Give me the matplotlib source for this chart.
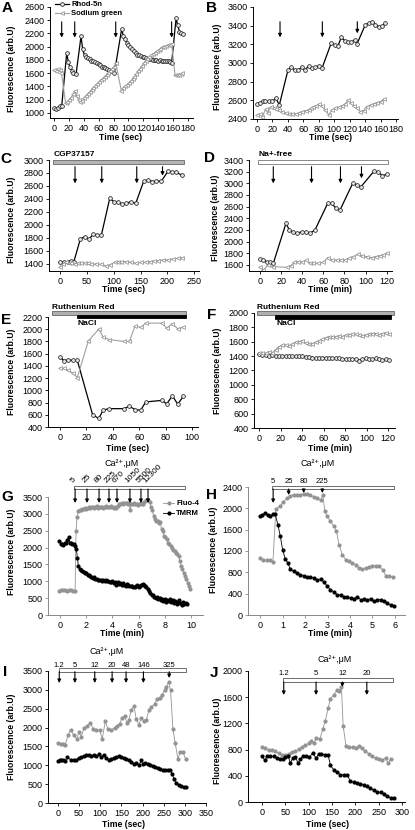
import matplotlib
matplotlib.use('Agg')
import matplotlib.pyplot as plt
from matplotlib.patches import Rectangle

plt.rcParams['font.family'] = ['Liberation Sans', 'DejaVu Sans']
plt.rcParams['font.size'] = 6.5
plt.rcParams['axes.linewidth'] = 0.7
plt.rcParams['xtick.major.size'] = 2.5
plt.rcParams['ytick.major.size'] = 2.5
plt.rcParams['xtick.major.width'] = 0.6
plt.rcParams['ytick.major.width'] = 0.6
plt.rcParams['xtick.major.pad'] = 1.5
plt.rcParams['ytick.major.pad'] = 1.5

# ---------------- data ----------------
# A
rh_a_x = [0, 2.5, 5, 7.5, 10.3, 17, 19.3, 21.5, 23.7, 26, 29.6, 36.3, 38.5, 41, 43, 45.5, 48, 50, 52.5, 55, 57.5,
          60, 62, 64.5, 67, 69, 71.5, 74, 76, 78.5, 81, 91, 93, 95.5, 98, 100, 102.5, 105, 107, 109.5, 112,
          114, 116.5, 119, 121, 123.5, 126, 128, 130.5, 133, 135, 137.5, 140, 142, 144.5, 147, 149, 151.5, 154, 156, 158,
          164, 166, 168.5, 170.5, 173]
rh_a_y = [1070, 1060, 1080, 1100, 1100, 1900, 1770, 1690, 1640, 1600, 1585, 2160, 1960, 1870, 1840, 1830, 1810, 1790, 1780, 1770, 1750,
          1740, 1720, 1700, 1700, 1680, 1660, 1650, 1640, 1630, 1600, 2275, 2160, 2110, 2060, 2020, 1990, 1960, 1930, 1900, 1880,
          1870, 1860, 1850, 1840, 1830, 1820, 1810, 1810, 1800, 1800, 1800, 1790, 1800, 1790, 1790, 1780, 1790, 1780, 1770, 1760,
          2430, 2330, 2230, 2200, 2190]
sg_a_x = [0, 2.5, 5, 7.5, 10, 15.5, 18, 20.5, 23, 25.5, 28, 30.5, 33, 35.5, 38, 40.5, 43, 45.5, 48, 50.5, 53, 55.5, 58, 60.5,
          63, 65.5, 68, 70.5, 73, 75.5, 78, 80.5, 83, 90.5, 93, 95.5, 98, 100.5, 103, 105.5, 108, 110.5, 113,
          115.5, 118, 120.5, 123, 125.5, 128, 130.5, 133, 135.5, 138, 140.5, 143, 145.5, 148, 150.5, 153, 155.5, 158,
          162.5, 165, 167.5, 170, 172.5]
sg_a_y = [1650, 1640, 1660, 1650, 1610, 1150, 1170, 1200, 1230, 1280, 1330, 1260, 1200, 1160, 1180, 1220, 1260, 1290, 1320, 1350, 1380, 1410, 1440, 1470,
          1500, 1520, 1550, 1580, 1600, 1630, 1660, 1700, 1750, 1330, 1370, 1400, 1420, 1450, 1480, 1510, 1550, 1590, 1630,
          1670, 1710, 1750, 1780, 1810, 1840, 1870, 1890, 1910, 1930, 1950, 1970, 1990, 2000, 2010, 2020, 2030, 2040,
          1580, 1570, 1580, 1590, 1600]
arrows_a = [10.3, 27.8, 82.9, 158]

# B
rh_b_x = [0, 3.5, 7.3, 10.8, 15.1, 19.4, 24.6, 28.9, 40.1, 44.5, 48.8, 53.1, 58.3, 61.7, 66.9, 71.2, 75.5, 79.8, 84.2,
          96.2, 100.6, 104.9, 109.2, 113.5, 117.9, 122.2, 126.5, 129.5, 140.3, 144.6, 148.9, 153.3, 157.6, 161.9, 166.2]
rh_b_y = [2560, 2575, 2590, 2590, 2590, 2590, 2620, 2550, 2925, 2960, 2920, 2920, 2960, 2920, 2970, 2945, 2955, 2970, 2945,
          3215, 3195, 3185, 3275, 3240, 3220, 3220, 3250, 3205, 3410, 3425, 3440, 3410, 3390, 3395, 3430]
sg_b_x = [0, 3.5, 7, 11, 14, 18, 22, 25, 29, 32, 37, 41, 45, 50, 54, 58, 63, 67, 70, 73, 77, 80, 84, 88, 93, 97, 101, 106,
          110, 114, 118, 122, 125, 130, 134, 138, 142, 147, 151, 155, 160, 164]
sg_b_y = [2443, 2454, 2425, 2504, 2468, 2533, 2515, 2504, 2497, 2479, 2461, 2454, 2454, 2454, 2461, 2479, 2490, 2497, 2515,
          2525, 2540, 2558, 2540, 2497, 2443, 2497, 2515, 2525, 2540, 2561, 2604, 2568, 2540, 2515, 2479, 2490, 2533, 2551,
          2561, 2576, 2586, 2611]
arrows_b = [29.8, 84.6, 129.9]
tips_b = [3275, 3275, 3318]

# C
rh_c_x = [0, 7.5, 14.9, 21.1, 25.5, 37.9, 45.9, 54, 61.6, 69.7, 77.1, 92.7, 100.1, 108.2, 116.2, 123.7, 131.8, 141.1,
          156.1, 164.2, 172.3, 179.7, 189, 201.5, 209.6, 217, 226.4]
rh_c_y = [1436, 1426, 1436, 1450, 1426, 1785, 1820, 1780, 1856, 1846, 1846, 2410, 2359, 2349, 2318, 2333, 2359, 2333,
          2677, 2692, 2667, 2677, 2677, 2830, 2810, 2810, 2769]
sg_c_x = [0, 5.6, 10.6, 16.2, 21.1, 27.4, 33.6, 39.8, 46, 52.2, 58.5, 67.8, 77.1, 85.2, 92.7, 102, 108.2, 114.4, 123.7,
          133.1, 142.4, 151.7, 159.8, 167.3, 174.7, 182.8, 192.2, 201.5, 210.8, 220.1, 226.4]
sg_c_y = [1359, 1400, 1436, 1410, 1410, 1400, 1410, 1410, 1410, 1410, 1395, 1400, 1395, 1374, 1385, 1426, 1426, 1436, 1436,
          1426, 1410, 1426, 1426, 1436, 1446, 1451, 1462, 1462, 1477, 1487, 1497]
arrows_c = [28, 77.8, 143, 191]
tips_c = [2641, 2641, 2641, 2759]

# D
rh_d_x = [0, 3.2, 6.3, 9.5, 12.6, 24.6, 27.8, 31.6, 35.4, 39.5, 43.3, 47.4, 52.1, 64.1, 67.9, 72, 75.8, 87.8, 91.6, 95.7,
          108.3, 112.1, 115.9, 120]
rh_d_y = [1703, 1686, 1657, 1646, 1629, 2314, 2200, 2160, 2143, 2171, 2160, 2143, 2200, 2657, 2657, 2571, 2543, 3000, 2971, 2943,
          3217, 3189, 3131, 3154]
sg_d_x = [0, 3.2, 7.9, 12.6, 25.3, 29.4, 32.5, 36.3, 40.1, 43.6, 47.4, 50.5, 55.3, 60, 64.1, 67.9, 72.6, 76.8, 80.5, 84.3,
          88.4, 92.5, 96.3, 101, 105.8, 109.5, 113.7, 116.8, 120]
sg_d_y = [1560, 1514, 1600, 1571, 1560, 1589, 1646, 1657, 1646, 1686, 1629, 1629, 1629, 1646, 1726, 1686, 1686, 1686, 1686, 1714,
          1743, 1783, 1760, 1743, 1726, 1743, 1760, 1771, 1800]
arrows_d = [12.6, 48.8, 76.2, 96.1]
tips_d = [3000, 3000, 3000, 3086]

# E
rh_e_x = [0, 3, 6.3, 9.6, 13.1, 24.7, 29.3, 32.8, 37.4, 48.5, 52.5, 56.8, 61.1, 64.9, 77, 80.8, 85.1, 89.1, 93.4]
rh_e_y = [1540, 1485, 1500, 1490, 1490, 600, 540, 680, 700, 700, 740, 685, 675, 810, 835, 780, 910, 775, 900]
sg_e_x = [0, 3, 6.3, 9.6, 13.1, 21.5, 29.3, 32.8, 37.4, 48.5, 52.5, 56.8, 61.1, 64.9, 77, 80.8, 85.1, 89.1, 93.4]
sg_e_y = [1365, 1360, 1330, 1280, 1210, 1810, 2000, 1870, 1830, 1800, 1800, 2050, 2030, 2100, 2100, 2020, 2090, 2010, 2030]

# F
f_x = [0, 3.1, 6.2, 9.3, 12.4, 15.5, 18.6, 21.7, 24.8, 27.9, 31, 34.1, 37.2, 40.3, 43.4, 46.5, 49.6, 52.7, 55.8, 58.9,
       62, 65.1, 68.2, 71.3, 74.4, 77.5, 80.6, 83.7, 86.8, 89.9, 93, 96.1, 99.2, 102.3, 105.4, 108.5, 111.6, 114.7, 117.8, 120.9]
rh_f_y = [1429, 1417, 1417, 1408, 1417, 1408, 1396, 1408, 1396, 1408, 1400, 1396, 1408, 1400, 1388, 1388, 1380, 1367, 1376, 1376,
          1380, 1367, 1376, 1367, 1376, 1359, 1359, 1355, 1359, 1355, 1339, 1355, 1367, 1359, 1355, 1367, 1355, 1347, 1355, 1347]
sg_f_y = [1441, 1449, 1437, 1461, 1445, 1490, 1531, 1551, 1551, 1543, 1571, 1592, 1600, 1612, 1580, 1565, 1571, 1592, 1612, 1633,
          1653, 1673, 1665, 1673, 1682, 1673, 1694, 1694, 1702, 1706, 1694, 1682, 1694, 1706, 1714, 1714, 1694, 1714, 1722, 1710]

# G
g_fluo_x = [-0.05, 0.1, 0.25, 0.4, 0.55, 0.7, 0.85, 1.0, 1.15,
            1.22, 1.3, 1.4, 1.5, 1.6, 1.7, 1.8, 1.9, 2.0, 2.1,
            2.2, 2.3, 2.4, 2.5, 2.6, 2.7, 2.8, 2.9, 3.0, 3.1,
            3.2, 3.3, 3.4, 3.5, 3.6, 3.7, 3.8, 3.9, 4.0, 4.1,
            4.2, 4.3, 4.4, 4.5, 4.6, 4.7, 4.8, 4.9, 5.0, 5.1,
            5.2, 5.3, 5.35, 5.45, 5.55, 5.65, 5.75, 5.85, 5.95, 6.05,
            6.15, 6.25, 6.35, 6.45, 6.55, 6.65, 6.75, 6.85, 6.95, 7.05,
            7.15, 7.25, 7.35, 7.45, 7.55, 7.65, 7.75, 7.85, 7.95, 8.05,
            8.15, 8.25, 8.35, 8.45, 8.55, 8.65, 8.75, 8.85, 8.95, 9.05,
            9.15, 9.25, 9.35, 9.45, 9.55, 9.65, 9.75, 9.85, 9.95]
g_fluo_y = [720, 740, 730, 750, 720, 740, 730, 700, 720,
            2480, 2900, 3080, 3120, 3100, 3150, 3140, 3180, 3150, 3170,
            3200, 3180, 3200, 3190, 3180, 3200, 3220, 3180, 3200, 3190,
            3210, 3180, 3200, 3220, 3190, 3210, 3200, 3220, 3200, 3180,
            3200, 3160, 3230, 3290, 3300, 3320, 3300, 3330, 3310, 3330,
            3280, 3320, 3100, 3300, 3280, 3310, 3290, 3300, 3260, 3280,
            3320, 3300, 3280, 3340, 3400, 3420, 3400, 3350, 3200, 3100,
            2950, 2850, 2780, 2800, 2720, 2750, 2560, 2480, 2350, 2300,
            2250, 2150, 2100, 2050, 2000, 1920, 1900, 1850, 1800, 1760,
            1600, 1450, 1350, 1250, 1150, 1080, 950, 850, 760]
g_tmrm_x = [-0.05, 0.05, 0.15, 0.25, 0.35, 0.45, 0.55, 0.65, 0.75, 0.85,
            0.95, 1.05, 1.15, 1.25, 1.32, 1.4, 1.5, 1.6, 1.7, 1.8,
            1.9, 2.0, 2.1, 2.2, 2.3, 2.4, 2.5, 2.6, 2.7, 2.8,
            2.9, 3.0, 3.1, 3.2, 3.3, 3.4, 3.5, 3.6, 3.7, 3.8,
            3.9, 4.0, 4.1, 4.2, 4.3, 4.4, 4.5, 4.6, 4.7, 4.8,
            4.9, 5.0, 5.1, 5.2, 5.3, 5.4, 5.5, 5.6, 5.7, 5.8,
            5.9, 6.0, 6.1, 6.2, 6.3, 6.4, 6.5, 6.6, 6.7, 6.8,
            6.9, 7.0, 7.1, 7.2, 7.3, 7.4, 7.5, 7.6, 7.7, 7.8,
            7.9, 8.0, 8.1, 8.2, 8.3, 8.4, 8.5, 8.6, 8.7, 8.8,
            8.9, 9.0, 9.1, 9.2, 9.3, 9.4, 9.5, 9.6, 9.7]
g_tmrm_y = [2200, 2100, 2100, 2080, 2130, 2150, 2230, 2320, 2150, 2130,
            2100, 2100, 2050, 1950, 1700, 1450, 1360, 1330, 1300, 1290,
            1250, 1260, 1200, 1180, 1150, 1120, 1100, 1120, 1080, 1060,
            1050, 1030, 1040, 1020, 1030, 1010, 1030, 1000, 1010, 990,
            980, 1000, 960, 990, 900, 980, 920, 960, 880, 950,
            900, 870, 920, 880, 860, 850, 870, 840, 820, 860,
            880, 830, 860, 900, 930, 900, 870, 820, 760, 700,
            640, 600, 580, 540, 500, 520, 470, 500, 440, 480,
            420, 460, 400, 450, 430, 470, 400, 440, 360, 420,
            330, 380, 450, 350, 300, 400, 330, 350, 320]
g_arrows = [1.15, 2.06, 2.98, 3.74, 4.35, 5.34, 6.18, 6.72]
g_conc = ['5', '25', '80', '225', '670', '1050', '5500', '12300']

# H
h_tmrm_x = [0, 0.10, 0.22, 0.34, 0.45, 0.57, 0.67, 0.79, 0.90, 1.0, 1.12, 1.24, 1.34, 1.49, 1.64, 1.79, 1.94, 2.09, 2.24, 2.39,
            2.54, 2.69, 2.84, 2.99, 3.13, 3.28, 3.43, 3.58, 3.73, 3.88, 4.03, 4.18, 4.33, 4.48, 4.63, 4.78, 4.93, 5.07, 5.22, 5.37,
            5.52, 5.67, 5.82, 5.97]
h_tmrm_y = [1850, 1881, 1912, 1881, 1850, 1894, 1894, 1694, 1475, 1225, 1050, 975, 862, 819, 787, 756, 737, 706, 712, 694,
            662, 675, 619, 537, 475, 431, 381, 369, 337, 331, 319, 306, 337, 287, 300, 287, 306, 256, 287, 287,
            256, 225, 181, 162]
h_fluo_x = [0, 0.15, 0.30, 0.45, 0.57, 0.70, 0.90, 1.04, 1.19, 1.34, 1.49, 1.64, 1.79, 1.94, 2.09, 2.24, 2.39, 2.54, 2.69, 2.79,
            2.88, 2.99, 3.13, 3.28, 3.40, 3.51, 3.66, 3.81, 3.96, 4.10, 4.25, 4.40, 4.55, 4.70, 4.85, 5.0, 5.15, 5.30, 5.45, 5.60,
            5.75, 5.90]
h_fluo_y = [1069, 1037, 1025, 1025, 994, 1987, 2050, 2119, 2194, 2225, 2256, 2256, 2244, 2275, 2275, 2256, 2212, 2194, 2150, 2256,
            1944, 1850, 1756, 1662, 1569, 1319, 1131, 1037, 1006, 975, 944, 881, 862, 881, 900, 912, 925, 912, 850, 737,
            737, 712]
h_arrows = [0.58, 1.27, 1.94, 2.77]
h_tips = [2100, 2250, 2287, 2287]
h_conc = ['5', '25', '80', '225']

# I
i_fluo_x = [0, 6.3, 11.8, 17.3, 23.6, 29.9, 37, 44.9, 49.6, 55.1, 61.4, 68.5, 76.4, 82.7, 90.6, 98.4, 104.7, 111.8, 118.1, 126,
            133.9, 139.4, 145.7, 152, 157.5, 163, 167.7, 173.2, 179.5, 185, 191.3, 196.9, 203.1, 208.7, 215, 220.5, 228.3, 233.9,
            240.2, 246.5, 252, 255.9, 261.4, 266.1, 271.7, 277.2, 283.5, 289, 295.3, 301.6]
i_fluo_y = [1591, 1573, 1555, 1546, 1795, 1946, 1795, 1706, 1884, 1751, 1990, 2035, 2124, 1973, 1946, 1928, 1706, 2168, 1955, 1946,
            1990, 2035, 2106, 2266, 2301, 2124, 2212, 2461, 2568, 2239, 2061, 2266, 2168, 2195, 2461, 2550, 2621, 2745,
            2772, 2861, 2994, 3065, 3216, 2994, 1973, 1591, 1173, 1351, 1351, 1173]
i_tmrm_x = [0, 3.9, 7.9, 11.8, 16.5, 22, 29.9, 37.8, 43.3, 48.8, 55.1, 60.6, 66.9, 73.2, 78.7, 85, 90.6, 96.9, 102.4, 107.9,
            114.2, 120.5, 126, 132.3, 137.8, 143.3, 149.6, 155.9, 161.4, 167.7, 173.2, 178.7, 185, 191.3, 196.9, 200.8, 206.3,
            212.6, 218.1, 224.4, 229.9, 236.2, 241.7, 248, 253.5, 259.8, 265.4, 270.1, 274, 279.5, 285.8, 291.3, 296.9, 303.1]
i_tmrm_y = [1111, 1147, 1129, 1147, 1111, 1218, 1147, 1129, 1129, 1200, 1218, 1236, 1262, 1262, 1244, 1280, 1236, 1289, 1218, 1262,
            1191, 1129, 1173, 1200, 1218, 1244, 1218, 1191, 1156, 1129, 1085, 1022, 1058, 996, 1129, 1022, 1067,
            1022, 996, 969, 951, 925, 907, 880, 863, 863, 880, 774, 640, 525, 490, 463, 436, 436]
i_arrows = [3, 40, 87, 128, 161, 202, 263]
i_tips = [3182, 3182, 3182, 3182, 3182, 3182, 3314]
i_conc = ['1.2', '5', '12', '20', '48', '146', '325']

# J
j_fluo_x = [0, 7.1, 14.3, 21.4, 28.6, 35.7, 42.9, 50, 57.1, 64.3, 71.4, 78.6, 85.7, 92.9, 100, 105.7, 110.7, 116.4, 123.6, 130,
            135.7, 141.4, 146.4, 153.6, 160.7, 165.7, 170, 173.6, 180, 187.1, 194.3, 201.4, 207.1, 214.3, 221.4, 228.6, 235.7,
            242.9, 250, 257.1, 264.3, 270, 275]
j_fluo_y = [833, 822, 797, 787, 772, 746, 721, 721, 736, 756, 772, 807, 833, 863, 898, 934, 898, 975, 959, 1112,
            1244, 1431, 1574, 1635, 1711, 1701, 1751, 1162, 848, 838, 838, 822, 858, 822, 772, 736, 695,
            670, 655, 645, 670, 594, 655]
j_tmrm_x = [0, 5.7, 10.7, 17.9, 25, 32.1, 39.3, 44.3, 50, 55.7, 60.7, 65.7, 71.4, 77.1, 82.1, 87.1, 94.3, 101.4, 108.6, 115.7,
            121.4, 127.1, 134.3, 141.4, 146.4, 153.6, 160.7, 167.9, 175, 182.1, 189.3, 196.4, 203.6, 210.7, 217.9, 225, 232.1,
            239.3, 246.4, 253.6, 260.7, 267.9, 275, 282.1]
j_tmrm_y = [706, 635, 695, 695, 695, 670, 655, 655, 685, 706, 594, 670, 685, 594, 655, 695, 695, 685, 746, 670,
            736, 736, 721, 721, 558, 492, 452, 416, 416, 416, 315, 300, 289, 279, 264, 239, 213, 178, 147, 147,
            122, 86, 61, 61]
j_arrows = [46.5, 115.7, 172, 224.3]
j_tips = [1634, 1634, 1756, 1634]
j_conc = ['1.2', '5', '12', '20']

W, H = 415, 830
fig = plt.figure(figsize=(W / 100, H / 100), dpi=100)


def ftext(x, y, s, **kw):
    fig.text(x / W, 1 - y / H, s, **kw)


def make_ax(box, xlim, ylim, xticks, yticks, spine='black'):
    l, t, r, b = box
    ax = fig.add_axes([l / W, 1 - b / H, (r - l) / W, (b - t) / H])
    ax.set_xlim(*xlim)
    ax.set_ylim(*ylim)
    ax.set_xticks(xticks)
    ax.set_yticks(yticks)
    ax.spines[['top', 'right']].set_visible(False)
    for s in ['left', 'bottom']:
        ax.spines[s].set_color(spine)
    ax.tick_params(colors=spine, labelcolor='black', labelsize=6.5)
    ax.patch.set_visible(False)
    return ax


def rhod(ax, x, y, **kw):
    return ax.plot(x, y, color='black', lw=0.9, marker='o', ms=2.7, mfc='#e6e6e6', mec='#222222', mew=0.55, **kw)[0]


def sodium(ax, x, y, **kw):
    return ax.plot(x, y, color='#a0a0a0', lw=0.8, marker='<', ms=2.8, mfc='white', mec='#909090', mew=0.55, **kw)[0]


def arrow(ax, x, top, tip):
    ax.annotate('', xy=(x, tip), xytext=(x, top), annotation_clip=False,
                arrowprops=dict(arrowstyle='-|>', lw=0.8, color='black', mutation_scale=5,
                                shrinkA=0, shrinkB=0))


ylab = 'Fluorescence (arb.U)'
lab_kw = dict(weight='bold', fontsize=6.2, ha='center', va='center')
let_kw = dict(weight='bold', fontsize=11, ha='center', va='center')

# ---------- A ----------
ax = make_ax((50, 7, 193, 118), (-5.4, 186.7), (924, 2600), range(0, 181, 20), range(1000, 2601, 200))
l1 = rhod(ax, rh_a_x, rh_a_y)
l2 = sodium(ax, sg_a_x, sg_a_y)
for xa in arrows_a:
    arrow(ax, xa, 2376, 2138)
ax.legend([l1, l2], ['Rhod-5n', 'Sodium green'], loc='upper left', bbox_to_anchor=(55 / W, 1 - 1 / H),
          bbox_transform=fig.transFigure, frameon=False, prop={'weight': 'bold', 'size': 5.5},
          handlelength=1.8, handletextpad=0.3, labelspacing=0.2, borderpad=0, borderaxespad=0)
ftext(120, 137, 'Time (sec)', **lab_kw)
ftext(12, 69, ylab, rotation=90, **lab_kw)
ftext(7, 8, 'A', **let_kw)

# ---------- B ----------
ax = make_ax((253, 7, 398, 119), (-5.2, 182.6), (2400, 3600), range(0, 181, 20), range(2400, 3601, 200))
rhod(ax, rh_b_x, rh_b_y)
sodium(ax, sg_b_x, sg_b_y)
for xa, tp in zip(arrows_b, tips_b):
    arrow(ax, xa, 3442, tp)
ftext(330, 137, 'Time (sec)', **lab_kw)
ftext(217, 67, ylab, rotation=90, **lab_kw)
ftext(211, 8, 'B', **let_kw)

# ---------- C ----------
ax = make_ax((49, 160, 199, 271), (-20.5, 259), (1292, 3000), range(0, 251, 50), range(1400, 3001, 200))
rhod(ax, rh_c_x, rh_c_y)
sodium(ax, sg_c_x, sg_c_y)
for xa, tp in zip(arrows_c, tips_c):
    arrow(ax, xa, 2897, tp)
ax.add_patch(Rectangle((-12.5, 2934), 243.5, 66, facecolor='#b5b5b5', edgecolor='#666666', lw=0.6, clip_on=False))
ax.text(-12.5, 3077, 'CGP37157', weight='bold', fontsize=6, ha='left', va='center')
ftext(123, 290, 'Time (sec)', **lab_kw)
ftext(12, 220, ylab, rotation=90, **lab_kw)
ftext(6, 159, 'C', **let_kw)

# ---------- D ----------
ax = make_ax((249, 160, 392, 271), (-10.4, 125), (1497, 3400), range(0, 121, 20), range(1600, 3401, 200))
rhod(ax, rh_d_x, rh_d_y)
sodium(ax, sg_d_x, sg_d_y)
for xa, tp in zip(arrows_d, tips_d):
    arrow(ax, xa, 3286, tp)
ax.add_patch(Rectangle((-1.6, 3326), 123, 74, facecolor='white', edgecolor='#777777', lw=0.6, clip_on=False))
ax.text(-1.5, 3486, 'Na+-free', weight='bold', fontsize=6, ha='left', va='center')
ftext(330, 290, 'Time (min)', **lab_kw)
ftext(215, 218, ylab, rotation=90, **lab_kw)
ftext(209, 158, 'D', **let_kw)

# ---------- E ----------
ax = make_ax((48, 317, 198, 427), (-9.1, 104.5), (400, 2200), range(0, 101, 20), range(400, 2201, 200))
rhod(ax, rh_e_x, rh_e_y)
sodium(ax, sg_e_x, sg_e_y)
ax.add_patch(Rectangle((-6.3, 2238), 101.5, 60, facecolor='#b0b0b0', edgecolor='#666666', lw=0.6, clip_on=False))
ax.add_patch(Rectangle((12.7, 2184), 82.5, 54, facecolor='black', edgecolor='black', lw=0.6, clip_on=False))
ax.text(-6, 2352, 'Ruthenium Red', weight='bold', fontsize=6, ha='left', va='center')
ax.text(13, 2097, 'NaCl', weight='bold', fontsize=6, ha='left', va='center')
ftext(127, 448, 'Time (sec)', **lab_kw)
ftext(12, 372, ylab, rotation=90, **lab_kw)
ftext(6, 320, 'E', **let_kw)

# ---------- F ----------
ax = make_ax((254, 313, 395, 428), (-4.65, 126.5), (400, 2000), range(0, 121, 20), range(400, 2001, 200))
rhod(ax, f_x, rh_f_y)
sodium(ax, f_x, sg_f_y)
ax.add_patch(Rectangle((-1.6, 1972), 126.9, 56, facecolor='#b0b0b0', edgecolor='#666666', lw=0.6, clip_on=False))
ax.add_patch(Rectangle((14.9, 1923), 107.9, 56, facecolor='black', edgecolor='black', lw=0.6, clip_on=False))
ax.text(-1.5, 2074, 'Ruthenium Red', weight='bold', fontsize=6, ha='left', va='center')
ax.text(16.5, 1857, 'NaCl', weight='bold', fontsize=6, ha='left', va='center')
ftext(330, 448, 'Time (min)', **lab_kw)
ftext(217, 371, ylab, rotation=90, **lab_kw)
ftext(212, 315, 'F', **let_kw)

gray = '#939393'
dot = dict(marker='o', ms=2.0, lw=0.6)

# ---------- G ----------
ax = make_ax((48, 497, 203, 615), (-0.92, 10.92), (0, 3500), range(0, 11, 2), range(0, 3501, 500), spine='#888888')
g1, = ax.plot(g_fluo_x, g_fluo_y, color=gray, mfc=gray, mec=gray, **dot)
g2, = ax.plot(g_tmrm_x, g_tmrm_y, color='black', mfc='black', mec='black', **dot)
ax.add_patch(Rectangle((1.07, 3737), 8.47, 89, facecolor='white', edgecolor='#555555', lw=0.6, clip_on=False))
for xa, c in zip(g_arrows, g_conc):
    arrow(ax, xa, 3737, 3322)
    ax.text(xa - 0.1, 3870, c, rotation=45, rotation_mode='anchor', ha='left', va='bottom', fontsize=6)
ax.text(4.73, 4479, 'Ca²⁺,μM', fontsize=6.5, ha='center', va='center')
ax.legend([g1, g2], ['Fluo-4', 'TMRM'], loc='upper left', bbox_to_anchor=(163 / W, 1 - 500 / H),
          bbox_transform=fig.transFigure, frameon=False, prop={'weight': 'bold', 'size': 5.5},
          handlelength=1.45, handletextpad=0.3, labelspacing=0.35, borderpad=0, borderaxespad=0)
ftext(122, 633, 'Time (min)', **lab_kw)
ftext(12, 552, ylab, rotation=90, **lab_kw)
ftext(7, 497, 'G', **let_kw)

# ---------- H ----------
ax = make_ax((248, 487, 405, 615), (-0.54, 6.45), (0, 2400), range(0, 7), range(0, 2401, 400), spine='#888888')
ax.plot(h_fluo_x, h_fluo_y, color=gray, mfc=gray, mec=gray, **dot)
ax.plot(h_tmrm_x, h_tmrm_y, color='black', mfc='black', mec='black', **dot)
ax.add_patch(Rectangle((0.54, 2363), 5.42, 62, facecolor='white', edgecolor='#555555', lw=0.6, clip_on=False))
for xa, tp, c in zip(h_arrows, h_tips, h_conc):
    arrow(ax, xa, 2363, tp)
    ax.text(xa, 2512, c, fontsize=5.5, ha='center', va='center')
ax.text(2.55, 2850, 'Ca²⁺,μM', fontsize=6.5, ha='center', va='center')
ftext(330, 633, 'Time (min)', **lab_kw)
ftext(213, 550, ylab, rotation=90, **lab_kw)
ftext(211, 495, 'H', **let_kw)

# ---------- I ----------
ax = make_ax((48, 671, 206, 803), (-23.6, 350), (0, 3500), range(0, 351, 50), range(0, 3501, 500))
ax.plot(i_fluo_x, i_fluo_y, color=gray, mfc=gray, mec=gray, **dot)
ax.plot(i_tmrm_x, i_tmrm_y, color='black', mfc='black', mec='black', **dot)
ax.add_patch(Rectangle((2.4, 3481), 299.6, 91, facecolor='white', edgecolor='#555555', lw=0.6, clip_on=False))
for xa, tp, c in zip(i_arrows, i_tips, i_conc):
    arrow(ax, xa, 3481, tp)
    ax.text(xa, 3659, c, fontsize=5.5, ha='center', va='center')
ax.text(116, 4004, 'Ca²⁺,μM', fontsize=6.5, ha='center', va='center')
ftext(123, 824, 'Time (sec)', **lab_kw)
ftext(12, 737, ylab, rotation=90, **lab_kw)
ftext(5, 672, 'I', **let_kw)

# ---------- J ----------
ax = make_ax((248, 671, 405, 802), (-30, 306), (0, 2000), range(0, 301, 50), range(0, 2001, 400))
ax.plot(j_fluo_x, j_fluo_y, color=gray, mfc=gray, mec=gray, **dot)
ax.plot(j_tmrm_x, j_tmrm_y, color='black', mfc='black', mec='black', **dot)
ax.add_patch(Rectangle((45, 1832), 236, 61, facecolor='white', edgecolor='#555555', lw=0.6, clip_on=False))
for xa, tp, c in zip(j_arrows, j_tips, j_conc):
    arrow(ax, xa, 1832, tp)
    ax.text(xa, 1969, c, fontsize=5.5, ha='center', va='center')
ax.text(156, 2168, 'Ca²⁺,μM', fontsize=6.5, ha='center', va='center')
ftext(327, 824, 'Time (sec)', **lab_kw)
ftext(217, 741, ylab, rotation=90, **lab_kw)
ftext(214, 673, 'J', **let_kw)

fig.savefig('out.png', dpi=100)
